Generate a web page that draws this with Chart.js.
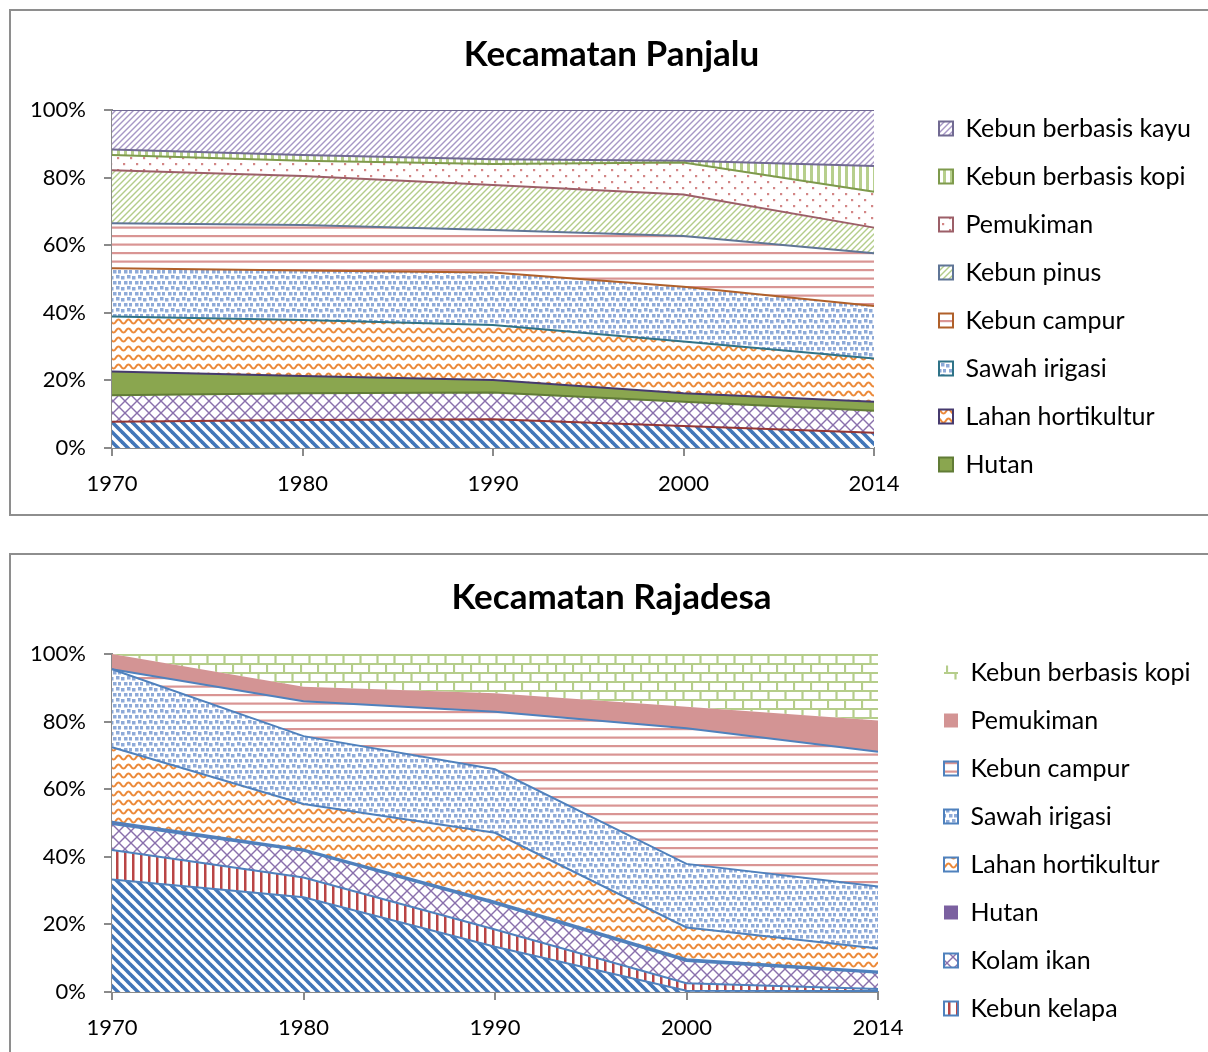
<!DOCTYPE html>
<html lang="id">
<head>
    <meta charset="UTF-8">
    <title>Penggunaan Lahan - Kecamatan Panjalu dan Rajadesa</title>

    <!-- Chart.js dari CDN -->
    <script src="https://cdn.jsdelivr.net/npm/chart.js@4.4.0/dist/chart.umd.min.js"></script>

    <style>
        html, body { margin: 0; padding: 0; background: #fff; overflow: hidden; }
        .kotak { position: absolute; left: 9px; width: 1201px; height: 503px; border: 2px solid #8e8e8e; background: #fff; }
        #kotak1 { top: 9px; }
        #kotak2 { top: 553px; }
        canvas { display: block; }
    </style>
</head>
<body>
    <div class="kotak" id="kotak1"><canvas id="chartPanjalu" width="1201" height="503"></canvas></div>
    <div class="kotak" id="kotak2"><canvas id="chartRajadesa" width="1201" height="503"></canvas></div>

    <script>
        // Tahun (kategori sumbu X)
        const years = ['1970', '1980', '1990', '2000', '2014'];

        // Kecamatan Panjalu, persen luas per kelas (urutan dari bawah ke atas)
        const pjLainnya     = [7.8, 8.3, 8.5, 6.5, 4.5];
        const pjKolamIkan   = [7.8, 7.9, 7.9, 7.2, 6.5];
        const pjHutan       = [7.0, 5.1, 3.7, 2.5, 2.7];
        const pjHortikultur = [16.3, 16.6, 16.3, 15.3, 12.8];
        const pjSawah       = [14.3, 14.6, 15.5, 16.2, 15.5];
        const pjCampur      = [13.3, 13.5, 12.6, 15.0, 15.6];
        const pjPinus       = [15.7, 14.5, 13.3, 12.3, 7.6];
        const pjPemukiman   = [4.5, 4.5, 6.2, 9.5, 10.6];
        const pjKopi        = [1.6, 1.7, 1.4, 0.5, 7.6];
        const pjKayu        = [11.7, 13.3, 14.6, 15.0, 16.6];

        const pjNames = ['Lainnya', 'Kolam ikan', 'Hutan', 'Lahan hortikultur', 'Sawah irigasi',
                         'Kebun campur', 'Kebun pinus', 'Pemukiman', 'Kebun berbasis kopi', 'Kebun berbasis kayu'];
        const pjValues = [pjLainnya, pjKolamIkan, pjHutan, pjHortikultur, pjSawah,
                          pjCampur, pjPinus, pjPemukiman, pjKopi, pjKayu];

        // Kecamatan Rajadesa
        const rjLainnya     = [33.3, 28.0, 13.4, 0.4, 0.3];
        const rjKelapa      = [8.7, 5.9, 5.1, 2.2, 0.6];
        const rjKolamIkan   = [7.7, 7.9, 7.7, 6.6, 4.8];
        const rjHutan       = [0.7, 0.4, 0.5, 0.5, 0.4];
        const rjHortikultur = [22.0, 13.4, 20.4, 9.4, 6.8];
        const rjSawah       = [23.1, 20.1, 18.8, 18.8, 18.3];
        const rjCampur      = [0.0, 10.3, 17.0, 40.1, 39.9];
        const rjPemukiman   = [4.5, 4.3, 5.5, 6.4, 9.2];
        const rjKopi        = [0.0, 9.7, 11.6, 15.6, 19.7];

        const rjNames = ['Lainnya', 'Kebun kelapa', 'Kolam ikan', 'Hutan', 'Lahan hortikultur',
                         'Sawah irigasi', 'Kebun campur', 'Pemukiman', 'Kebun berbasis kopi'];
        const rjValues = [rjLainnya, rjKelapa, rjKolamIkan, rjHutan, rjHortikultur,
                          rjSawah, rjCampur, rjPemukiman, rjKopi];

        const axisGray = '#8a8a8a';
        const fontFamily = 'Lato, Carlito, "Open Sans", sans-serif';

        // Membuat pola arsiran dari kanvas kecil
        function pola(ctx, w, h, gambar) {
            const c = document.createElement('canvas');
            c.width = w;
            c.height = h;
            const g = c.getContext('2d');
            g.fillStyle = '#ffffff';
            g.fillRect(0, 0, w, h);
            gambar(g);
            return ctx.createPattern(c, 'repeat');
        }

        const garisTurun = (color, p, lw) => ctx => pola(ctx, p, p, g => {
            g.strokeStyle = color; g.lineWidth = lw;
            for (const k of [-p, 0, p]) { g.beginPath(); g.moveTo(-2, k - 2); g.lineTo(p + 2, k + p + 2); g.stroke(); }
        });
        const garisNaik = (color, p, lw) => ctx => pola(ctx, p, p, g => {
            g.strokeStyle = color; g.lineWidth = lw;
            for (const k of [-p, 0, p]) { g.beginPath(); g.moveTo(k - 2, p + 2); g.lineTo(k + p + 2, -2); g.stroke(); }
        });
        const silang = (color, p, lw) => ctx => pola(ctx, p, p, g => {
            g.strokeStyle = color; g.lineWidth = lw;
            for (const k of [-p, 0, p]) {
                g.beginPath(); g.moveTo(-2, k - 2); g.lineTo(p + 2, k + p + 2); g.stroke();
                g.beginPath(); g.moveTo(k - 2, p + 2); g.lineTo(k + p + 2, -2); g.stroke();
            }
        });
        const gelombang = (color) => ctx => pola(ctx, 10, 9, g => {
            g.strokeStyle = color; g.lineWidth = 2;
            g.beginPath();
            for (let x = -1; x <= 11; x += 0.5) {
                const y = 4.5 + 2 * Math.sin(2 * Math.PI * x / 10);
                if (x === -1) g.moveTo(x, y); else g.lineTo(x, y);
            }
            g.stroke();
        });
        const kotakKecil = (color) => ctx => pola(ctx, 11, 11, g => {
            g.fillStyle = color;
            for (const [x, y] of [[0, 1], [6, 0], [3, 6], [8, 6]]) g.fillRect(x, y, 3.5, 3.5);
        });
        const garisDatar = (color) => ctx => pola(ctx, 6, 17, g => {
            g.fillStyle = color;
            g.fillRect(0, 3, 6, 2.2);
            g.fillRect(0, 11.5, 6, 2.2);
        });
        const garisTegak = (color, p, lw) => ctx => pola(ctx, p, 4, g => {
            g.fillStyle = color;
            g.fillRect(1, 0, lw, 4);
        });
        const titik = (color) => ctx => pola(ctx, 13, 12, g => {
            g.fillStyle = color;
            g.fillRect(2, 2, 2.2, 2.2);
            g.fillRect(8, 8, 2.2, 2.2);
        });
        const bata = (color) => ctx => pola(ctx, 17, 18, g => {
            g.strokeStyle = color; g.lineWidth = 2.2;
            g.beginPath();
            g.moveTo(0, 1); g.lineTo(17, 1);
            g.moveTo(0, 10); g.lineTo(17, 10);
            g.moveTo(1, 1); g.lineTo(1, 10);
            g.moveTo(9.5, 10); g.lineTo(9.5, 19);
            g.stroke();
        });
        const polos = (color) => () => color;

        // Isian dan warna tepi tiap seri (seperti di Excel)
        const pjPaints = [
            garisTurun('#4276b8', 10, 3.6), silang('#8a70ac', 12, 1.4), polos('#8aa64f'),
            gelombang('#ec8a3a'), kotakKecil('#8eaad8'), garisDatar('#d99594'),
            garisNaik('#b3cd8a', 6, 1.4), titik('#d38686'), garisTegak('#b7cf8d', 7, 3),
            garisNaik('#a797c6', 6, 1.4)
        ];
        const pjBorders = ['#4f81bd', '#943634', '#617c36', '#463a6e', '#2f7388',
                           '#b0602a', '#5f7596', '#9c5f68', '#7e9a4c', '#716a92'];

        const rjPaints = [
            garisTurun('#4276b8', 10, 3.6), garisTegak('#b94545', 8, 2.5), silang('#8a70ac', 12, 1.4),
            polos('#7b60a0'), gelombang('#ec8a3a'), kotakKecil('#8eaad8'),
            garisDatar('#d99594'), polos('#d39494'), bata('#b5cd8a')
        ];
        const rjBorders = ['#4f81bd', '#4f81bd', '#4f81bd', null, '#4f81bd',
                           '#4f81bd', '#4f81bd', null, null];

        // Plugin kecil: lebar legenda tetap dan posisi legenda
        const letakLegenda = {
            id: 'letakLegenda',
            afterInit(chart, args, opts) {
                const lg = chart.legend;
                const fitAsli = lg.fit.bind(lg);
                lg.fit = function () { fitAsli(); this.width = opts.width; };
            },
            afterLayout(chart, args, opts) {
                const lg = chart.legend;
                const pad = lg.options.labels.padding;
                lg.left = opts.left - pad;
                lg.right = chart.width;
                lg.top = opts.top - pad;
                lg.bottom = chart.height;
            }
        };

        function buatGrafik(id, judul, titlePad, names, values, paints, borders, hidden, legendOpts) {
            const ctx = document.getElementById(id).getContext('2d');

            const datasets = names.map((name, i) => {
                const lineColor = borders[i + 1] || borders[i];
                return {
                    label: name,
                    data: values[i],
                    backgroundColor: paints[i](ctx),
                    borderColor: lineColor || 'rgba(0,0,0,0)',
                    borderWidth: lineColor ? 2 : 0,
                    fill: i === 0 ? 'origin' : '-1',
                    pointRadius: 0,
                    tension: 0
                };
            });

            return new Chart(ctx, {
                type: 'line',
                data: { labels: years, datasets },
                plugins: [letakLegenda],
                options: {
                    responsive: false,
                    animation: false,
                    events: [],
                    layout: { padding: 0 },
                    scales: {
                        x: {
                            offset: false,
                            grid: { drawOnChartArea: false, tickLength: 8, color: axisGray, lineWidth: 2 },
                            border: { color: axisGray, width: 2 },
                            ticks: { color: '#000', font: { family: fontFamily, size: 22 }, padding: 15, maxRotation: 0 },
                            afterFit: s => { s.height = 66; }
                        },
                        y: {
                            stacked: true,
                            min: 0,
                            max: 100,
                            grid: { drawOnChartArea: false, tickLength: 8, color: axisGray, lineWidth: 2 },
                            border: { color: axisGray, width: 2 },
                            ticks: {
                                stepSize: 20,
                                color: '#000',
                                font: { family: fontFamily, size: 22 },
                                padding: 18,
                                callback: v => v + '%'
                            },
                            afterFit: s => { s.width = 101; }
                        }
                    },
                    plugins: {
                        title: {
                            display: true,
                            text: judul,
                            color: '#000',
                            font: { family: fontFamily, size: 35, weight: 'bold', lineHeight: 1.2 },
                            padding: titlePad
                        },
                        legend: {
                            position: 'right',
                            align: 'start',
                            reverse: true,
                            labels: {
                                boxWidth: 14,
                                boxHeight: 14,
                                padding: 23,
                                color: '#000',
                                font: { family: fontFamily, size: 25 },
                                filter: item => item.datasetIndex >= hidden,
                                generateLabels: chart => {
                                    const items = Chart.defaults.plugins.legend.labels.generateLabels(chart);
                                    items.forEach(it => {
                                        const b = borders[it.datasetIndex];
                                        it.strokeStyle = b || 'rgba(0,0,0,0)';
                                        it.lineWidth = b ? 2 : 0;
                                    });
                                    return items;
                                }
                            }
                        },
                        tooltip: { enabled: false },
                        letakLegenda: legendOpts
                    }
                }
            });
        }

        buatGrafik('chartPanjalu', 'Kecamatan Panjalu', { top: 23, bottom: 34 },
                   pjNames, pjValues, pjPaints, pjBorders, 2,
                   { width: 338, left: 928, top: 105 });
        buatGrafik('chartRajadesa', 'Kecamatan Rajadesa', { top: 22, bottom: 35 },
                   rjNames, rjValues, rjPaints, rjBorders, 1,
                   { width: 334, left: 933, top: 105 });
    </script>
</body>
</html>
